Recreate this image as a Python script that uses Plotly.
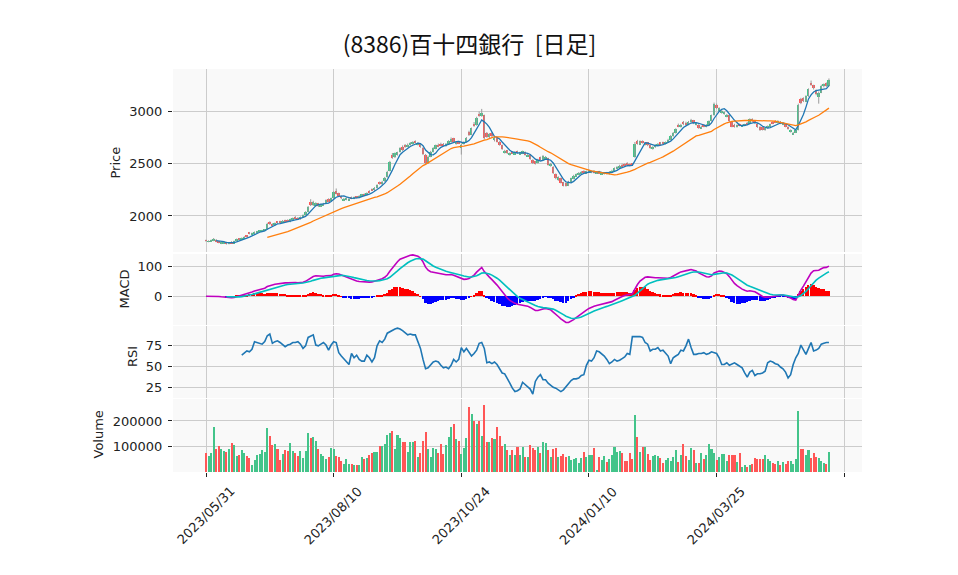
import numpy as np
import pandas as pd
import plotly.graph_objects as go

# ---------------- data ----------------
tick_index = [0, 50, 100, 150, 200, 250]
tick_labels = ["2023/05/31", "2023/08/10", "2023/10/24", "2024/01/10", "2024/03/25", ""]

open_ = [
1770,1755,1758,1762,1775,1758,1738,1740,1750,1735,
1755,1742,1762,1785,1772,1788,1812,1840,1828,1835,
1845,1850,1852,1860,1872,1945,1925,1910,1945,1948,
1940,1960,1962,1945,1965,1990,1985,1968,1988,2010,
2040,2130,2100,2095,2120,2090,2100,2120,2160,2140,
2170,2240,2215,2190,2150,2158,2150,2180,2165,2185,
2175,2190,2210,2198,2240,2255,2245,2268,2320,2300,
2330,2370,2430,2580,2560,2585,2610,2660,2675,2660,
2678,2688,2712,2680,2690,2650,2585,2505,2565,2612,
2640,2680,2690,2688,2668,2690,2705,2740,2690,2710,
2650,2685,2705,2800,2775,2880,2865,2975,2950,2960,
2790,2750,2790,2720,2745,2705,2675,2605,2625,2585,
2612,2590,2615,2590,2595,2610,2570,2585,2535,2520,
2505,2560,2535,2540,2550,2480,2470,2400,2345,2360,
2320,2310,2290,2325,2355,2380,2392,2400,2430,2408,
2418,2415,2430,2405,2425,2398,2400,2415,2400,2418,
2430,2450,2462,2490,2495,2505,2495,2500,2560,2710,
2680,2715,2680,2700,2680,2640,2655,2672,2700,2700,
2688,2700,2728,2760,2790,2870,2848,2895,2890,2870,
2895,2910,2870,2870,2835,2870,2850,2868,2905,2960,
3060,3000,2990,2975,2950,2960,2895,2870,2848,2875,
2855,2860,2890,2880,2925,2905,2880,2850,2845,2820,
2840,2855,2895,2905,2885,2900,2870,2880,2850,2800,
2780,2795,2820,3110,3120,3090,3140,3265,3245,3200,
3130,3175,3235,3265,3240]

high = [
1775,1768,1775,1790,1780,1762,1752,1750,1755,1752,
1760,1765,1785,1790,1795,1808,1818,1848,1842,1852,
1858,1862,1868,1875,1935,1950,1930,1938,1950,1955,
1962,1965,1968,1975,1985,1998,1990,1995,2015,2045,
2095,2160,2145,2130,2125,2118,2125,2158,2168,2175,
2235,2262,2222,2195,2172,2178,2172,2185,2185,2190,
2198,2210,2215,2225,2245,2262,2275,2302,2328,2335,
2372,2430,2525,2600,2605,2612,2655,2672,2685,2690,
2705,2712,2720,2702,2695,2655,2590,2575,2620,2655,
2680,2690,2698,2695,2695,2722,2748,2745,2708,2715,
2690,2712,2752,2812,2842,2895,2945,2995,3020,2965,
2800,2790,2800,2760,2750,2712,2680,2630,2630,2605,
2618,2615,2622,2612,2622,2615,2592,2590,2540,2525,
2545,2565,2580,2570,2555,2505,2475,2405,2378,2365,
2325,2318,2335,2365,2392,2405,2418,2428,2435,2432,
2445,2432,2436,2420,2430,2418,2418,2420,2428,2440,
2462,2475,2488,2498,2500,2512,2500,2505,2705,2725,
2720,2720,2705,2705,2685,2665,2685,2695,2705,2708,
2710,2735,2770,2800,2835,2880,2878,2905,2898,2905,
2925,2915,2888,2875,2860,2875,2875,2910,2965,3080,
3070,3035,3010,2995,2972,2965,2900,2878,2872,2880,
2875,2878,2895,2930,2930,2910,2885,2855,2850,2848,
2862,2880,2900,2912,2912,2905,2890,2885,2855,2825,
2800,2822,3070,3125,3130,3150,3215,3290,3250,3205,
3185,3250,3262,3272,3310]

low = [
1755,1750,1755,1760,1750,1740,1732,1733,1728,1730,
1738,1740,1758,1768,1770,1785,1795,1825,1825,1832,
1840,1845,1848,1855,1870,1915,1905,1905,1928,1935,
1935,1940,1948,1940,1960,1968,1962,1965,1985,2005,
2035,2095,2095,2088,2085,2085,2095,2115,2130,2135,
2165,2205,2185,2160,2142,2150,2145,2160,2160,2168,
2170,2185,2192,2195,2220,2238,2240,2262,2298,2295,
2325,2365,2425,2545,2552,2575,2605,2620,2650,2655,
2670,2680,2690,2672,2650,2580,2490,2495,2560,2605,
2635,2655,2668,2662,2660,2685,2700,2700,2680,2685,
2585,2680,2700,2762,2770,2850,2860,2945,2945,2730,
2745,2740,2750,2710,2700,2670,2630,2595,2590,2575,
2590,2585,2595,2585,2590,2575,2565,2535,2495,2490,
2500,2535,2530,2535,2480,2470,2400,2350,2335,2310,
2282,2280,2285,2320,2350,2375,2388,2395,2405,2400,
2412,2408,2405,2400,2400,2392,2395,2395,2395,2412,
2425,2445,2455,2468,2472,2482,2472,2478,2555,2680,
2675,2690,2672,2665,2640,2632,2650,2668,2680,2680,
2682,2695,2722,2755,2785,2845,2842,2865,2862,2865,
2890,2875,2862,2830,2828,2845,2845,2862,2900,2955,
3020,2990,2975,2965,2940,2895,2845,2842,2842,2855,
2850,2855,2870,2875,2895,2875,2840,2810,2815,2812,
2835,2850,2875,2885,2880,2875,2865,2845,2822,2795,
2772,2790,2815,3065,3085,3085,3135,3240,3205,3150,
3070,3170,3225,3230,3235]

close = [
1762,1760,1770,1782,1755,1745,1748,1745,1735,1748,
1742,1760,1780,1772,1790,1802,1800,1830,1838,1848,
1852,1858,1862,1870,1928,1920,1910,1932,1935,1940,
1955,1945,1952,1968,1978,1972,1968,1990,2010,2040,
2088,2105,2138,2120,2092,2112,2118,2150,2138,2168,
2225,2212,2192,2168,2165,2172,2165,2165,2180,2175,
2192,2205,2198,2220,2228,2245,2270,2295,2305,2328,
2365,2422,2515,2555,2598,2605,2645,2630,2658,2680,
2695,2705,2698,2695,2658,2588,2500,2565,2612,2648,
2672,2662,2675,2668,2688,2712,2735,2708,2700,2692,
2680,2705,2745,2770,2835,2862,2935,2955,2985,2745,
2755,2780,2758,2745,2705,2678,2638,2620,2598,2598,
2595,2608,2600,2605,2615,2582,2585,2540,2502,2498,
2538,2542,2570,2560,2488,2495,2410,2358,2370,2318,
2290,2288,2328,2358,2385,2398,2410,2420,2412,2425,
2435,2425,2412,2415,2408,2412,2410,2400,2420,2432,
2455,2468,2480,2475,2480,2490,2478,2485,2690,2690,
2712,2698,2698,2672,2648,2658,2678,2688,2685,2688,
2702,2728,2762,2792,2828,2852,2870,2872,2870,2898,
2918,2882,2880,2838,2852,2850,2868,2902,2958,3065,
3030,3025,3002,2988,2965,2902,2852,2850,2865,2860,
2870,2872,2875,2922,2902,2882,2848,2818,2822,2842,
2856,2872,2880,2890,2905,2880,2882,2852,2828,2818,
2792,2815,3060,3075,3095,3140,3205,3250,3215,3160,
3175,3240,3255,3238,3300]

volume = [
74000,62000,74000,176000,89000,100000,89000,82000,78000,89000,
113000,105000,62000,66000,86000,74000,62000,54000,26000,46000,
66000,70000,86000,79000,172000,141000,105000,109000,89000,46000,
70000,86000,82000,113000,82000,74000,62000,82000,54000,82000,
153000,132000,137000,121000,89000,70000,62000,50000,58000,93000,
89000,62000,59000,42000,33000,50000,30000,30000,28000,26000,
29000,58000,50000,54000,66000,74000,78000,78000,101000,101000,
109000,145000,153000,160000,89000,145000,133000,117000,117000,78000,
117000,117000,122000,58000,74000,121000,157000,92000,58000,93000,
89000,74000,109000,70000,105000,137000,176000,188000,129000,121000,
70000,93000,133000,255000,228000,200000,188000,200000,141000,263000,
117000,117000,133000,129000,176000,141000,101000,109000,86000,66000,
86000,66000,97000,66000,97000,58000,58000,105000,95000,86000,
97000,74000,117000,113000,86000,58000,89000,93000,58000,62000,
70000,58000,62000,46000,50000,54000,34000,54000,78000,58000,
66000,66000,93000,7000,58000,46000,62000,38000,50000,66000,
97000,78000,82000,74000,42000,42000,74000,50000,224000,137000,
78000,97000,97000,70000,46000,62000,66000,62000,54000,34000,
46000,55000,42000,58000,86000,38000,66000,109000,62000,46000,
93000,86000,34000,34000,74000,50000,66000,109000,89000,74000,
46000,60000,70000,70000,42000,66000,66000,66000,38000,74000,
18000,26000,20000,26000,30000,54000,50000,50000,50000,66000,
50000,45000,34000,30000,42000,26000,38000,30000,42000,42000,
30000,50000,240000,89000,89000,66000,86000,54000,74000,58000,
54000,42000,34000,30000,78000]

# RSI(14) (first 14 sessions have no value)
rsi_values = [None] * 14 + [
63,66,68,67,70,79,78,77,76,79,
86,88,77,79,80,78,76,73,75,76,
78,78,79,76,71,74,84,86,87,75,
74,76,78,75,69,75,79,78,66,62,
59,55,52,65,60,63,58,56,56,63,
60,55,60,74,80,78,82,89,91,93,
94,95,94,92,90,87,88,87,87,80,
71,58,47,48,51,55,56,55,51,48,
49,47,51,58,55,58,72,67,71,67,
62,65,69,77,78,71,54,55,53,55,
52,47,42,41,36,30,24,20,21,23,
31,28,26,23,17,32,37,40,34,34,
30,27,25,24,22,20,22,26,29,33,
35,35,36,39,40,51,57,56,60,68,
67,65,62,58,53,55,58,56,57,59,
61,65,64,85,85,85,85,84,78,76,
68,70,70,72,68,69,66,62,53,60,
62,64,69,68,74,82,72,64,64,65,
65,66,64,65,67,66,65,60,52,52,
54,51,53,54,52,50,48,42,37,43,
45,39,41,41,42,44,54,56,55,53,
52,49,47,43,36,40,52,60,65,75,
69,64,71,78,68,69,71,76,77,78,
78]

# ---------------- moving averages / MACD from the closes ----------------
n = len(close)
idx = list(range(n))
cs = pd.Series(close, dtype=float)
ma5 = cs.rolling(5).mean()
ma25 = cs.rolling(25).mean()
ema12 = cs.ewm(span=12, adjust=False).mean()
ema26 = cs.ewm(span=26, adjust=False).mean()
macd = ema12 - ema26
signal = macd.ewm(span=9, adjust=False).mean()
signal[:8] = np.nan
hist = macd - signal

UP = "#43c48a"
DN = "#ff5656"
candle_col = [UP if c >= o else DN for o, c in zip(open_, close)]

wx, wy = [], []
for i in idx:
    wx += [i, i, None]
    wy += [low[i], high[i], None]

body_base = [min(o, c) for o, c in zip(open_, close)]
body_h = [max(abs(c - o), 4) for o, c in zip(open_, close)]
hist_col = ["#ff0000" if (h >= 0) else "#0000ff" for h in hist.fillna(0)]

fig = go.Figure()
fig.add_trace(go.Scatter(x=wx, y=wy, mode="lines", line=dict(color="#9a9a9a", width=1),
                         xaxis="x", yaxis="y", hoverinfo="skip"))
fig.add_trace(go.Bar(x=idx, y=body_h, base=body_base, marker=dict(color=candle_col, line=dict(width=0)),
                     width=0.75, xaxis="x", yaxis="y"))
fig.add_trace(go.Scatter(x=idx, y=ma5, mode="lines", line=dict(color="#1f77b4", width=1.3), xaxis="x", yaxis="y"))
fig.add_trace(go.Scatter(x=idx, y=ma25, mode="lines", line=dict(color="#ff7f0e", width=1.3), xaxis="x", yaxis="y"))

fig.add_trace(go.Bar(x=idx, y=hist, marker=dict(color=hist_col, line=dict(width=0)), width=0.75,
                     xaxis="x2", yaxis="y2"))
fig.add_trace(go.Scatter(x=idx, y=macd, mode="lines", line=dict(color="#bf00bf", width=1.6), xaxis="x2", yaxis="y2"))
fig.add_trace(go.Scatter(x=idx, y=signal, mode="lines", line=dict(color="#00bfbf", width=1.6), xaxis="x2", yaxis="y2"))

fig.add_trace(go.Scatter(x=idx, y=rsi_values, mode="lines", line=dict(color="#1f77b4", width=1.6),
                         xaxis="x3", yaxis="y3"))

fig.add_trace(go.Bar(x=idx, y=volume, marker=dict(color=candle_col, line=dict(width=0)), width=0.8,
                     xaxis="x4", yaxis="y4"))

FONT = "DejaVu Sans"
GRID = "#cccccc"
XR = [-12.93, 256.95]

def xax(anchor, bottom=False):
    d = dict(domain=[0, 1], anchor=anchor, range=XR, tickvals=tick_index, showgrid=True,
             gridcolor=GRID, gridwidth=1, zeroline=False, showticklabels=False, showline=False,
             fixedrange=True)
    if bottom:
        d.update(ticks="outside", ticklen=4, tickcolor="#222", tickwidth=1)
    else:
        d.update(ticks="")
    return d

def yax(anchor, dom, rng, tv, tt=None):
    d = dict(domain=dom, anchor=anchor, range=rng, tickvals=tv, showgrid=True, gridcolor=GRID,
             gridwidth=1, zeroline=False, ticks="outside", ticklen=4, tickcolor="#222", tickwidth=1,
             tickfont=dict(family=FONT, size=13, color="#222"), showline=False, ticklabelstandoff=3)
    if tt is not None:
        d["ticktext"] = tt
    return d

# page body has an 8px default margin: the plot area should land at x 173..862, y 69..472
OFF = 8
PL, PT, PB, PR = 173, 69, 472, 862
PW, PH = PR - PL, PB - PT

def px(xp):
    return (xp - PL) / PW

def py(yp):
    return (PB - yp) / PH

fig.update_layout(
    width=958, height=575,
    margin=dict(l=PL - OFF, r=958 - (PR - OFF), t=PT - OFF, b=575 - (PB - OFF)),
    paper_bgcolor="white", plot_bgcolor="#f9f9f9",
    showlegend=False, bargap=0,
    title=dict(text="(8386)百十四銀行  [日足]", x=(469.5 - OFF) / 958, y=1 - (45 - OFF) / 575,
               xref="container", yref="container", xanchor="center", yanchor="middle",
               font=dict(family="Noto Sans CJK JP", size=23, color="#111")),
    xaxis=xax("y"), xaxis2=xax("y2"), xaxis3=xax("y3"), xaxis4=xax("y4", bottom=True),
    yaxis=yax("x", [py(252), 1.0], [1657, 3400], [2000, 2500, 3000]),
    yaxis2=yax("x2", [py(325), py(254)], [-97, 143], [0, 100]),
    yaxis3=yax("x3", [py(398), py(326)], [12.4, 97.5], [25, 50, 75]),
    yaxis4=yax("x4", [0, py(399)], [0, 286000], [100000, 200000], ["100000", "200000"]),
)

ann = []
for lab, xp, yp in [("Price", 115, 162.5), ("MACD", 124, 289.5), ("RSI", 132, 357), ("Volume", 97.5, 435)]:
    ann.append(dict(text=lab, x=px(xp), y=py(yp), xref="paper", yref="paper", textangle=-90,
                    showarrow=False, xanchor="center", yanchor="middle",
                    font=dict(family=FONT, size=13, color="#222")))
for tv, tl in zip(tick_index, tick_labels):
    if tl:
        ann.append(dict(text=tl, x=tv, y=py(516), xref="x4", yref="paper", textangle=-45,
                        showarrow=False, xanchor="center", yanchor="middle",
                        font=dict(family=FONT, size=13, color="#222")))
fig.update_layout(annotations=ann)

fig.write_html("out.html")
